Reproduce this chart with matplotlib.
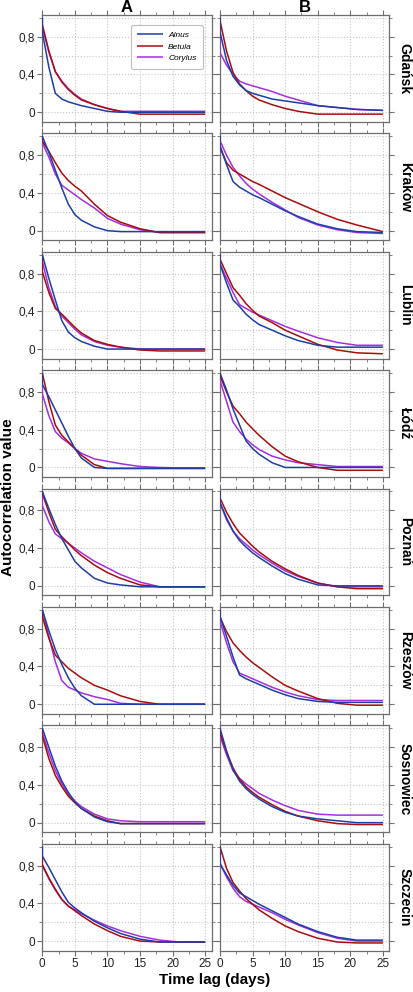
import matplotlib
matplotlib.use("Agg")
import matplotlib.pyplot as plt
from matplotlib.ticker import MultipleLocator, FuncFormatter

plt.rcParams['font.family'] = ['Liberation Sans', 'DejaVu Sans']

# lag 0 appears twice: value 1.0 then the curve's own start (vertical drop on the axis)
lags = [0, 0, 1, 2, 3, 4, 5, 6, 8, 10, 12, 15, 18, 21, 25]

cities = ['Gdańsk', 'Kraków', 'Lublin', 'Łódź', 'Poznań', 'Rzeszów', 'Sosnowiec', 'Szczecin']
columns = ['A', 'B']
species = ['Alnus', 'Betula', 'Corylus']
colors = {'Alnus': '#1c3fa6', 'Betula': '#a80d0d', 'Corylus': '#a52ee0'}

# Gdańsk
gdansk_a_alnus = [1.0, 0.85, 0.48, 0.20, 0.14, 0.11, 0.09, 0.07, 0.04, 0.01, 0.00, 0.00, 0.00, 0.00, 0.00]
gdansk_a_betula = [1.0, 0.93, 0.65, 0.43, 0.32, 0.24, 0.18, 0.13, 0.08, 0.04, 0.01, -0.02, -0.02, -0.02, -0.02]
gdansk_a_corylus = [1.0, 0.90, 0.64, 0.43, 0.33, 0.25, 0.19, 0.14, 0.08, 0.04, 0.01, 0.01, 0.01, 0.01, 0.01]
gdansk_b_alnus = [1.0, 0.85, 0.55, 0.38, 0.29, 0.23, 0.20, 0.18, 0.14, 0.12, 0.10, 0.07, 0.05, 0.03, 0.02]
gdansk_b_betula = [1.0, 0.97, 0.65, 0.42, 0.30, 0.23, 0.17, 0.13, 0.08, 0.04, 0.01, -0.02, -0.02, -0.02, -0.02]
gdansk_b_corylus = [1.0, 0.63, 0.50, 0.40, 0.33, 0.30, 0.28, 0.26, 0.22, 0.17, 0.13, 0.07, 0.05, 0.03, 0.02]

# Kraków
krakow_a_alnus = [1.0, 1.0, 0.83, 0.64, 0.45, 0.28, 0.17, 0.11, 0.04, 0.00, -0.01, -0.01, -0.01, -0.01, -0.01]
krakow_a_betula = [1.0, 0.95, 0.84, 0.72, 0.61, 0.53, 0.47, 0.42, 0.28, 0.16, 0.09, 0.02, -0.02, -0.02, -0.02]
krakow_a_corylus = [1.0, 0.93, 0.78, 0.60, 0.48, 0.43, 0.38, 0.33, 0.24, 0.13, 0.07, 0.01, -0.02, -0.02, -0.02]
krakow_b_alnus = [1.0, 0.90, 0.70, 0.52, 0.46, 0.42, 0.38, 0.35, 0.28, 0.21, 0.15, 0.07, 0.02, -0.01, -0.02]
krakow_b_betula = [1.0, 0.88, 0.72, 0.64, 0.60, 0.56, 0.52, 0.49, 0.42, 0.35, 0.29, 0.20, 0.12, 0.06, -0.01]
krakow_b_corylus = [1.0, 0.95, 0.80, 0.67, 0.58, 0.50, 0.44, 0.39, 0.30, 0.22, 0.14, 0.06, 0.01, -0.02, -0.03]

# Lublin
lublin_a_alnus = [1.0, 1.0, 0.75, 0.52, 0.30, 0.18, 0.12, 0.08, 0.03, 0.00, 0.00, 0.00, 0.00, 0.00, 0.00]
lublin_a_betula = [1.0, 0.82, 0.60, 0.43, 0.37, 0.30, 0.23, 0.17, 0.09, 0.05, 0.02, -0.01, -0.02, -0.02, -0.02]
lublin_a_corylus = [1.0, 0.93, 0.65, 0.45, 0.35, 0.28, 0.21, 0.15, 0.08, 0.04, 0.02, 0.00, 0.00, 0.00, 0.00]
lublin_b_alnus = [1.0, 0.90, 0.70, 0.52, 0.45, 0.37, 0.31, 0.26, 0.20, 0.14, 0.09, 0.04, 0.02, 0.02, 0.02]
lublin_b_betula = [1.0, 0.95, 0.80, 0.65, 0.57, 0.48, 0.41, 0.35, 0.28, 0.20, 0.14, 0.05, -0.01, -0.04, -0.05]
lublin_b_corylus = [1.0, 0.90, 0.75, 0.60, 0.47, 0.43, 0.39, 0.36, 0.30, 0.24, 0.19, 0.12, 0.07, 0.04, 0.04]

# Łódź
lodz_a_alnus = [1.0, 0.88, 0.75, 0.61, 0.47, 0.33, 0.20, 0.10, 0.00, -0.01, -0.01, -0.01, -0.01, -0.01, -0.01]
lodz_a_betula = [1.0, 1.0, 0.70, 0.45, 0.34, 0.27, 0.20, 0.13, 0.03, -0.01, -0.01, -0.01, -0.01, -0.01, -0.01]
lodz_a_corylus = [1.0, 0.78, 0.55, 0.38, 0.31, 0.26, 0.20, 0.15, 0.09, 0.065, 0.04, 0.01, 0.00, -0.005, -0.005]
lodz_b_alnus = [1.0, 1.0, 0.82, 0.62, 0.45, 0.28, 0.20, 0.14, 0.05, 0.00, 0.00, 0.00, 0.00, 0.00, 0.00]
lodz_b_betula = [1.0, 0.97, 0.80, 0.65, 0.57, 0.48, 0.41, 0.34, 0.22, 0.12, 0.06, 0.00, -0.03, -0.03, -0.03]
lodz_b_corylus = [1.0, 0.92, 0.70, 0.48, 0.38, 0.30, 0.24, 0.19, 0.12, 0.08, 0.05, 0.03, 0.01, 0.01, 0.01]

# Poznań
poznan_a_alnus = [1.0, 1.0, 0.82, 0.65, 0.50, 0.38, 0.26, 0.19, 0.08, 0.03, 0.01, -0.01, -0.01, -0.01, -0.01]
poznan_a_betula = [1.0, 0.98, 0.78, 0.60, 0.52, 0.45, 0.38, 0.32, 0.22, 0.14, 0.08, 0.01, -0.01, -0.01, -0.01]
poznan_a_corylus = [1.0, 0.85, 0.68, 0.55, 0.50, 0.45, 0.40, 0.35, 0.26, 0.19, 0.12, 0.04, -0.01, -0.01, -0.01]
poznan_b_alnus = [1.0, 0.88, 0.72, 0.58, 0.48, 0.41, 0.35, 0.30, 0.21, 0.13, 0.07, 0.01, 0.00, 0.00, 0.00]
poznan_b_betula = [1.0, 0.93, 0.78, 0.66, 0.56, 0.49, 0.42, 0.36, 0.26, 0.18, 0.11, 0.03, -0.01, -0.03, -0.03]
poznan_b_corylus = [1.0, 0.88, 0.70, 0.58, 0.50, 0.44, 0.38, 0.33, 0.24, 0.16, 0.10, 0.03, -0.01, -0.01, -0.01]

# Rzeszów
rzeszow_a_alnus = [1.0, 1.0, 0.78, 0.58, 0.42, 0.28, 0.17, 0.09, 0.00, 0.00, 0.00, 0.00, 0.00, 0.00, 0.00]
rzeszow_a_betula = [1.0, 0.93, 0.70, 0.52, 0.45, 0.38, 0.33, 0.28, 0.20, 0.15, 0.09, 0.03, 0.00, 0.00, 0.00]
rzeszow_a_corylus = [1.0, 1.0, 0.72, 0.45, 0.25, 0.18, 0.15, 0.12, 0.08, 0.05, 0.01, 0.00, 0.00, 0.00, 0.00]
rzeszow_b_alnus = [1.0, 0.93, 0.72, 0.50, 0.31, 0.27, 0.24, 0.21, 0.15, 0.10, 0.06, 0.03, 0.02, 0.02, 0.02]
rzeszow_b_betula = [1.0, 0.92, 0.77, 0.65, 0.57, 0.50, 0.44, 0.39, 0.29, 0.20, 0.14, 0.06, 0.01, -0.01, -0.01]
rzeszow_b_corylus = [1.0, 0.88, 0.65, 0.45, 0.33, 0.30, 0.27, 0.24, 0.18, 0.13, 0.09, 0.05, 0.04, 0.04, 0.04]

# Sosnowiec
sosnowiec_a_alnus = [1.0, 1.0, 0.80, 0.60, 0.44, 0.32, 0.22, 0.15, 0.06, 0.01, -0.01, -0.01, -0.01, -0.01, -0.01]
sosnowiec_a_betula = [1.0, 0.92, 0.68, 0.50, 0.38, 0.28, 0.21, 0.15, 0.07, 0.02, -0.01, -0.01, -0.01, -0.01, -0.01]
sosnowiec_a_corylus = [1.0, 0.95, 0.74, 0.55, 0.41, 0.30, 0.23, 0.17, 0.09, 0.04, 0.02, 0.01, 0.01, 0.01, 0.01]
sosnowiec_b_alnus = [1.0, 1.0, 0.76, 0.56, 0.44, 0.36, 0.30, 0.25, 0.17, 0.11, 0.07, 0.04, 0.02, 0.00, 0.00]
sosnowiec_b_betula = [1.0, 0.95, 0.75, 0.58, 0.46, 0.38, 0.32, 0.27, 0.19, 0.12, 0.07, 0.02, -0.01, -0.02, -0.02]
sosnowiec_b_corylus = [1.0, 0.92, 0.72, 0.55, 0.47, 0.41, 0.36, 0.31, 0.24, 0.18, 0.13, 0.09, 0.08, 0.08, 0.08]

# Szczecin
szczecin_a_alnus = [1.0, 0.90, 0.78, 0.65, 0.52, 0.41, 0.35, 0.30, 0.21, 0.14, 0.08, 0.02, -0.01, -0.01, -0.01]
szczecin_a_betula = [1.0, 0.81, 0.67, 0.55, 0.44, 0.37, 0.32, 0.27, 0.18, 0.11, 0.05, 0.00, -0.01, -0.01, -0.01]
szczecin_a_corylus = [1.0, 0.80, 0.66, 0.54, 0.44, 0.37, 0.33, 0.29, 0.22, 0.16, 0.11, 0.05, 0.01, -0.01, -0.01]
szczecin_b_alnus = [1.0, 0.82, 0.70, 0.59, 0.51, 0.47, 0.43, 0.39, 0.32, 0.25, 0.18, 0.10, 0.04, 0.01, 0.01]
szczecin_b_betula = [1.0, 1.0, 0.77, 0.62, 0.53, 0.45, 0.39, 0.33, 0.24, 0.16, 0.10, 0.03, -0.01, -0.02, -0.02]
szczecin_b_corylus = [1.0, 0.82, 0.68, 0.56, 0.47, 0.42, 0.39, 0.36, 0.30, 0.23, 0.17, 0.09, 0.03, 0.00, 0.00]

data = {
    ('Gdańsk', 'A'): [gdansk_a_alnus, gdansk_a_betula, gdansk_a_corylus],
    ('Gdańsk', 'B'): [gdansk_b_alnus, gdansk_b_betula, gdansk_b_corylus],
    ('Kraków', 'A'): [krakow_a_alnus, krakow_a_betula, krakow_a_corylus],
    ('Kraków', 'B'): [krakow_b_alnus, krakow_b_betula, krakow_b_corylus],
    ('Lublin', 'A'): [lublin_a_alnus, lublin_a_betula, lublin_a_corylus],
    ('Lublin', 'B'): [lublin_b_alnus, lublin_b_betula, lublin_b_corylus],
    ('Łódź', 'A'): [lodz_a_alnus, lodz_a_betula, lodz_a_corylus],
    ('Łódź', 'B'): [lodz_b_alnus, lodz_b_betula, lodz_b_corylus],
    ('Poznań', 'A'): [poznan_a_alnus, poznan_a_betula, poznan_a_corylus],
    ('Poznań', 'B'): [poznan_b_alnus, poznan_b_betula, poznan_b_corylus],
    ('Rzeszów', 'A'): [rzeszow_a_alnus, rzeszow_a_betula, rzeszow_a_corylus],
    ('Rzeszów', 'B'): [rzeszow_b_alnus, rzeszow_b_betula, rzeszow_b_corylus],
    ('Sosnowiec', 'A'): [sosnowiec_a_alnus, sosnowiec_a_betula, sosnowiec_a_corylus],
    ('Sosnowiec', 'B'): [sosnowiec_b_alnus, sosnowiec_b_betula, sosnowiec_b_corylus],
    ('Szczecin', 'A'): [szczecin_a_alnus, szczecin_a_betula, szczecin_a_corylus],
    ('Szczecin', 'B'): [szczecin_b_alnus, szczecin_b_betula, szczecin_b_corylus],
}

W, H = 413, 992
fig = plt.figure(figsize=(W / 100, H / 100), dpi=100)

col_left = [42.3, 220.0]
ax_w = 169.4
ax_h = 106.7
row_top0 = 15.0
row_step = 118.4

comma = FuncFormatter(lambda v, p: ('%g' % v).replace('.', ','))
spine_col = '#6e6e6e'

for r, city in enumerate(cities):
    for c, col in enumerate(columns):
        top = row_top0 + r * row_step
        ax = fig.add_axes([col_left[c] / W, 1 - (top + ax_h) / H, ax_w / W, ax_h / H])
        for k, sp in enumerate(species):
            ax.plot(lags, data[(city, col)][k], color=colors[sp], lw=1.1,
                    label=sp, zorder=5 - k, solid_capstyle='butt')
        ax.set_xlim(0, 26)
        ax.set_ylim(-0.1, 1.03)
        ax.xaxis.set_major_locator(MultipleLocator(5))
        ax.xaxis.set_minor_locator(MultipleLocator(2.5))
        ax.yaxis.set_major_locator(MultipleLocator(0.4))
        ax.yaxis.set_minor_locator(MultipleLocator(0.2))
        ax.yaxis.set_major_formatter(comma)
        ax.grid(True, which='major', axis='x', color='#c8c8c8', ls=':', lw=0.8)
        ax.grid(True, which='both', axis='y', color='#c8c8c8', ls=':', lw=0.8)
        ax.set_axisbelow(True)
        for sp_name in ax.spines:
            ax.spines[sp_name].set_color(spine_col)
            ax.spines[sp_name].set_linewidth(0.9)
        ax.tick_params(which='both', direction='out', top=True, right=True,
                       color=spine_col, labelsize=8.5, labelcolor='#222222', pad=2)
        ax.tick_params(which='major', length=3.5)
        ax.tick_params(which='minor', length=2)
        if r != len(cities) - 1:
            ax.tick_params(labelbottom=False)
        if c != 0:
            ax.tick_params(labelleft=False)
        if r == 0:
            ax.set_title(col, fontsize=12, fontweight='bold', pad=1)
        if c == 1:
            ax.text(1.09, 0.5, city, transform=ax.transAxes, rotation=-90,
                    ha='center', va='center', fontsize=10, fontweight='bold')
        if r == 0 and c == 0:
            leg = ax.legend(loc='upper right', bbox_to_anchor=(0.947, 0.906),
                            prop={'style': 'italic', 'size': 6}, frameon=True,
                            fancybox=True, edgecolor='#b0b0b0', handlelength=3.1,
                            borderpad=0.75, labelspacing=0.45, handletextpad=0.6,
                            borderaxespad=0)
            leg.get_frame().set_linewidth(0.8)

fig.text(8 / W, 1 - 497 / H, 'Autocorrelation value', rotation=90, ha='center',
         va='center', fontsize=11, fontweight='bold')
fig.text(0.52, 1 - 980 / H, 'Time lag (days)', ha='center', va='center',
         fontsize=11, fontweight='bold')

fig.savefig('out.png', dpi=100)
